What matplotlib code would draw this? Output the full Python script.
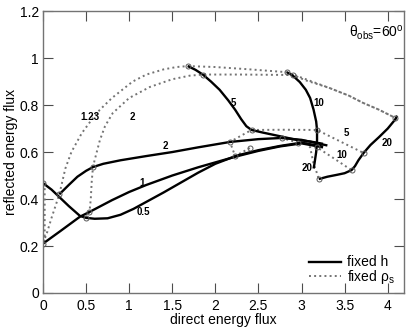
import matplotlib
matplotlib.use('Agg')
import matplotlib.pyplot as plt
from matplotlib.ticker import FuncFormatter

plt.rcParams['font.family'] = ['Liberation Sans', 'DejaVu Sans']
plt.rcParams['mathtext.fontset'] = 'custom'
plt.rcParams['mathtext.rm'] = 'Liberation Sans'
plt.rcParams['mathtext.it'] = 'Liberation Sans:italic'

# fixed h curves (solid)
h05_x = [0.0, 0.1, 0.2, 0.3, 0.43, 0.5, 0.6, 0.75, 0.9, 1.05, 1.2, 1.4, 1.6, 1.8, 2.0, 2.25, 2.5, 2.75, 3.0, 3.25]
h05_y = [0.468, 0.44, 0.405, 0.37, 0.328, 0.32, 0.316, 0.318, 0.333, 0.358, 0.388, 0.428, 0.47, 0.512, 0.55, 0.585, 0.608, 0.626, 0.64, 0.623]
h1_x = [0.0, 0.2, 0.43, 0.54, 0.8, 1.0, 1.2, 1.5, 1.8, 2.0, 2.25, 2.5, 2.75, 3.0, 3.25]
h1_y = [0.21, 0.263, 0.325, 0.345, 0.395, 0.43, 0.46, 0.5, 0.535, 0.556, 0.582, 0.605, 0.624, 0.637, 0.62]
h2_x = [0.19, 0.3, 0.4, 0.5, 0.58, 0.7, 0.9, 1.2, 1.5, 1.8, 2.17, 2.5, 2.77, 3.0, 3.3]
h2_y = [0.42, 0.46, 0.495, 0.52, 0.536, 0.55, 0.565, 0.583, 0.6, 0.62, 0.643, 0.655, 0.66, 0.652, 0.628]
h5_x = [1.68, 1.77, 1.855, 1.95, 2.05, 2.15, 2.23, 2.3, 2.36, 2.42, 2.55, 2.78, 2.94, 3.1, 3.25]
h5_y = [0.966, 0.95, 0.93, 0.9, 0.865, 0.82, 0.78, 0.74, 0.71, 0.694, 0.683, 0.665, 0.652, 0.645, 0.635]
h10_x = [2.83, 2.9, 2.98, 3.05, 3.1, 3.14, 3.17, 3.18, 3.18, 3.17, 3.15, 3.14]
h10_y = [0.94, 0.925, 0.898, 0.865, 0.83, 0.78, 0.73, 0.694, 0.65, 0.6, 0.55, 0.53]
h20_x = [3.2, 3.3, 3.41, 3.5, 3.58, 3.62, 3.66, 3.72, 3.8, 3.9, 4.0, 4.09, 4.11]
h20_y = [0.485, 0.495, 0.503, 0.51, 0.523, 0.54, 0.565, 0.596, 0.63, 0.664, 0.7, 0.74, 0.755]

# fixed rho_s curves (dotted)
r123_x = [0.02, 0.02, 0.0, 0.05, 0.1, 0.19, 0.26, 0.33, 0.45, 0.55, 0.66, 0.8, 1.04, 1.2, 1.4, 1.55, 1.68,
          2.0, 2.4, 2.83, 3.05, 3.33, 3.55, 3.71, 3.9, 4.09]
r123_y = [0.468, 0.23, 0.21, 0.26, 0.32, 0.42, 0.53, 0.6, 0.68, 0.73, 0.78, 0.83, 0.9, 0.93, 0.952, 0.962, 0.966,
          0.962, 0.952, 0.94, 0.91, 0.872, 0.84, 0.81, 0.78, 0.745]
r2_x = [0.5, 0.54, 0.555, 0.565, 0.58, 0.6, 0.66, 0.72, 0.81, 1.0, 1.24, 1.5, 1.7, 1.855, 2.3, 2.9,
        3.05, 3.33, 3.55, 3.71, 3.9, 4.09]
r2_y = [0.32, 0.345, 0.4, 0.47, 0.536, 0.566, 0.65, 0.71, 0.766, 0.83, 0.877, 0.91, 0.925, 0.93, 0.93, 0.928,
        0.905, 0.872, 0.84, 0.81, 0.78, 0.745]
r5_x = [2.4, 2.23, 2.17, 2.3, 2.42, 2.8, 3.18, 3.45, 3.72]
r5_y = [0.617, 0.583, 0.643, 0.67, 0.694, 0.695, 0.694, 0.645, 0.596]
r10_x = [2.96, 2.77, 3.0, 3.18, 3.38, 3.58]
r10_y = [0.64, 0.66, 0.65, 0.62, 0.572, 0.523]
r20_x = [3.05, 3.1, 3.14, 3.17, 3.2]
r20_y = [0.64, 0.62, 0.55, 0.52, 0.485]

# grid points (circles)
pt_x = [0.0, 0.0, 0.19, 1.68, 2.83, 4.09, 0.5, 0.54, 0.58, 1.855, 2.9,
        2.4, 2.23, 2.17, 2.42, 3.18, 3.72, 2.96, 2.77, 3.18, 3.58, 3.2]
pt_y = [0.468, 0.21, 0.42, 0.966, 0.94, 0.745, 0.32, 0.345, 0.536, 0.93, 0.93,
        0.617, 0.583, 0.643, 0.694, 0.694, 0.596, 0.64, 0.66, 0.62, 0.523, 0.485]

h_labels = ['0.5', '1', '2', '5', '10', '20']
h_label_x = [1.17, 1.15, 1.42, 2.21, 3.2, 3.99]
h_label_y = [0.345, 0.47, 0.625, 0.81, 0.81, 0.638]
r_labels = ['1.23', '2', '5', '10', '20']
r_label_x = [0.54, 1.04, 3.52, 3.47, 3.07]
r_label_y = [0.75, 0.75, 0.68, 0.587, 0.53]

fig = plt.figure(figsize=(4.09, 3.27), dpi=100)
ax = fig.add_axes([0.105, 0.104, 0.883, 0.862])

dot = dict(color='0.45', linestyle=':', lw=1.4)
for xs, ys in [(r123_x, r123_y), (r2_x, r2_y), (r5_x, r5_y), (r10_x, r10_y), (r20_x, r20_y)]:
    ax.plot(xs, ys, **dot)
for xs, ys in [(h05_x, h05_y), (h1_x, h1_y), (h2_x, h2_y), (h5_x, h5_y), (h10_x, h10_y), (h20_x, h20_y)]:
    ax.plot(xs, ys, color='black', lw=1.7, solid_capstyle='butt', solid_joinstyle='round')
ax.plot(pt_x, pt_y, 'o', ms=3.6, mfc='none', mec='0.35', mew=0.7)

for t, x, y in zip(h_labels, h_label_x, h_label_y):
    ax.text(x, y, t, fontsize=7, fontweight='bold', ha='center', va='center')
for t, x, y in zip(r_labels, r_label_x, r_label_y):
    ax.text(x, y, t, fontsize=7, fontweight='bold', ha='center', va='center')

ax.plot([], [], color='black', lw=1.7, label='fixed h')
ax.plot([], [], label=r'fixed ρ$_{\rm s}$', **dot)
ax.legend(loc='lower right', frameon=False, fontsize=10, handlelength=2.3,
          handletextpad=0.5, labelspacing=-0.1, borderaxespad=0.1,
          bbox_to_anchor=(0.995, 0.0))

ax.text(0.998, 0.955, r'θ$_{\rm obs}$=60$^{\rm o}$', transform=ax.transAxes,
        ha='right', va='top', fontsize=10)

ax.set_xlim(0, 4.19)
ax.set_ylim(0, 1.2)
ax.set_xticks([0, 0.5, 1, 1.5, 2, 2.5, 3, 3.5, 4])
ax.set_yticks([0, 0.2, 0.4, 0.6, 0.8, 1.0, 1.2])
ax.xaxis.set_major_formatter(FuncFormatter(lambda v, p: '%g' % v))
ax.yaxis.set_major_formatter(FuncFormatter(lambda v, p: '%g' % v))
ax.tick_params(direction='in', length=7, width=0.8, color='0.3', labelsize=10,
               top=True, right=True)
ax.tick_params(axis='x', pad=4)
ax.tick_params(axis='y', pad=3)
for s in ax.spines.values():
    s.set_color('0.45')
    s.set_linewidth(1.0)
ax.set_xlabel('direct energy flux', fontsize=10, labelpad=0)
ax.set_ylabel('reflected energy flux', fontsize=10, labelpad=1)

fig.savefig('out.png', dpi=100)
